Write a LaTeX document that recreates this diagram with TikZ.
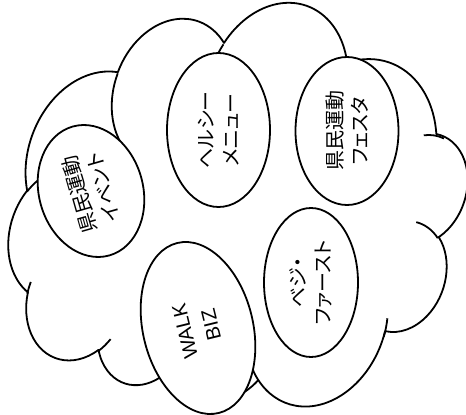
\documentclass[tikz,border=0pt]{standalone}
\usepackage{fontspec}
\newfontfamily\jpfont[RawFeature=+palt]{Noto Sans CJK JP}
\newfontfamily\latinfont{Liberation Sans}
\usetikzlibrary{shapes.geometric}
\begin{document}
\begin{tikzpicture}[x=1pt,y=1pt,
  outl/.style={line width=1.8pt, line join=round},
  stub/.style={line width=1.8pt},
  bubble/.style={ellipse, draw, outl, fill=white, inner sep=0pt, align=center,
     font=\jpfont\fontsize{20}{25}\selectfont}]
\useasboundingbox (0,0) rectangle (466,415);
% cloud (preset cloud geometry, rotated)
\begin{scope}[shift={(374.6pt,-60.8pt)}, x={(-0.9528pt,0.3468pt)}, y={(0.33pt,0.9068pt)}]
  \draw[outl, fill=white] (39,143.7)
    arc[start angle=-187.75, end angle=-59.64, x radius=67.53, y radius=91.90]
    arc[start angle=-152.04, end angle=-45.44, x radius=53.33, y radius=72.67]
    arc[start angle=-153.49, end angle=-37.33, x radius=43.65, y radius=59.45]
    arc[start angle=-139.71, end angle=-10.21, x radius=48.57, y radius=65.95]
    arc[start angle=-74.77, end angle=23.21, x radius=53.33, y radius=72.73]
    arc[start angle=-37.52, end angle=81.86, x radius=67.75, y radius=92.20]
    arc[start angle=0.46, end angle=121.98, x radius=57.85, y radius=78.67]
    arc[start angle=16.84, end angle=146.24, x radius=67.52, y radius=92.15]
    arc[start angle=58.98, end angle=150.18, x radius=77.20, y radius=105.43]
    arc[start angle=-276.72, end angle=-137.02, x radius=43.60, y radius=59.45]
    arc[start angle=-239.64, end angle=-95.89, x radius=43.45, y radius=59.45]
    -- cycle;
  \draw[stub] (46.93,261.77) arc[start angle=85.55, end angle=120.36, x radius=43.45, y radius=59.45];
  \draw[stub] (69.28,348.99) arc[start angle=68.14, end angle=94.62, x radius=43.60, y radius=59.45];
  \draw[stub] (164.78,390.90) arc[start angle=146.24, end angle=158.47, x radius=67.52, y radius=92.15];
  \draw[stub] (288.27,347.51) arc[start angle=4.74, end angle=16.84, x radius=67.52, y radius=92.15];
  \draw[stub] (341.29,229.54) arc[start angle=-64.03, end angle=0.46, x radius=57.85, y radius=78.67];
  \draw[stub] (417.98,153.54) arc[start angle=23.21, end angle=49.64, x radius=53.33, y radius=72.73];
  \draw[stub] (383.24,54.26) arc[start angle=-10.21, end angle=0.83, x radius=48.57, y radius=65.95];
  \draw[stub] (290.78,39.52) arc[start angle=-156.29, end angle=-139.71, x radius=48.57, y radius=65.95];
  \draw[stub] (221.41,47.20) arc[start angle=-167.73, end angle=-153.54, x radius=43.65, y radius=59.45];
  \draw[stub] (140.00,51.92) arc[start angle=-59.64, end angle=-45.73, x radius=67.53, y radius=91.90];
  \draw[stub] (41.27,157.89) arc[start angle=162.27, end angle=174.65, x radius=67.53, y radius=91.90];
\end{scope}
% ellipses
\node[bubble, minimum width=134pt, minimum height=104pt, rotate=106] (e1) at (91,224) {県民運動\\イベント};
\node[bubble, minimum width=154pt, minimum height=103pt, rotate=90] (e2) at (218.5,285) {ヘルシー\\メニュー};
\node[bubble, minimum width=148pt, minimum height=103pt, rotate=90] (e3) at (347,284) {県民運動\\フェスタ};
\node[bubble, minimum width=149pt, minimum height=94pt, rotate=90] (e4) at (311,132.5) {ベジ・\\ファースト};
\node[bubble, minimum width=175pt, minimum height=110pt, rotate=103.7,
      font=\latinfont\fontsize{20}{27}\selectfont] (e5) at (198,87) {WALK\\BIZ};
\end{tikzpicture}
\end{document}
